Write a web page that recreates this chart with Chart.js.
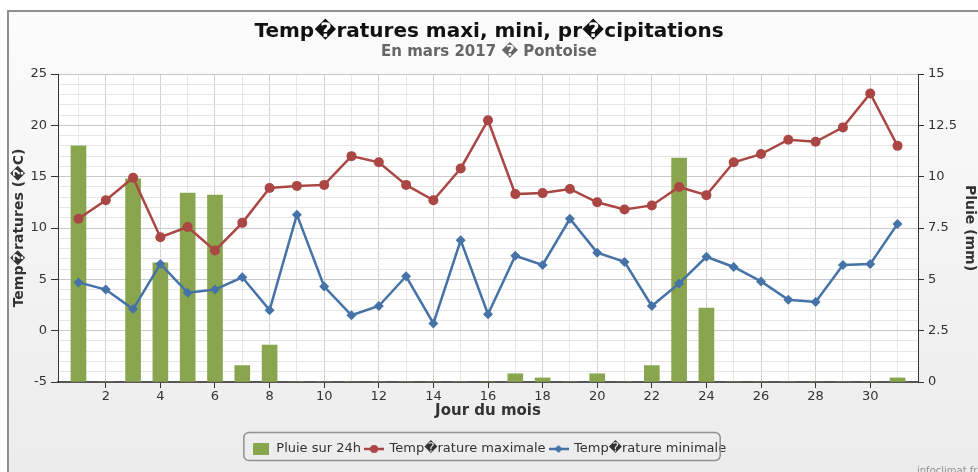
<!DOCTYPE html>
<html lang="fr">
<head>
<meta charset="utf-8">
<title>Températures maxi, mini, précipitations</title>
<script src="https://cdn.jsdelivr.net/npm/chart.js@4/dist/chart.umd.min.js"></script>
<style>
  html, body { margin: 0; padding: 0; background: #fff; }
  canvas { display: block; }
</style>
</head>
<body>
<canvas id="graphique" width="978" height="472"></canvas>
<script>
const jours = [1, 2, 3, 4, 5, 6, 7, 8, 9, 10, 11, 12, 13, 14, 15, 16,
  17, 18, 19, 20, 21, 22, 23, 24, 25, 26, 27, 28, 29, 30, 31];

const pluie = [11.5, 0, 9.9, 5.8, 9.2, 9.1, 0.8, 1.8, 0, 0, 0, 0, 0, 0, 0, 0,
  0.4, 0.2, 0, 0.4, 0, 0.8, 10.9, 3.6, 0, 0, 0, 0, 0, 0, 0.2];

const tempMax = [10.9, 12.7, 14.9, 9.1, 10.1, 7.8, 10.5, 13.9, 14.1, 14.2,
  17.0, 16.4, 14.2, 12.7, 15.8, 20.5, 13.3, 13.4, 13.8, 12.5,
  11.8, 12.2, 14.0, 13.2, 16.4, 17.2, 18.6, 18.4, 19.8, 23.1, 18.0];

const tempMin = [4.7, 4.0, 2.1, 6.5, 3.7, 4.0, 5.2, 2.0, 11.3, 4.3,
  1.5, 2.4, 5.3, 0.7, 8.8, 1.6, 7.3, 6.4, 10.9, 7.6,
  6.7, 2.4, 4.6, 7.2, 6.2, 4.8, 3.0, 2.8, 6.4, 6.5, 10.4];

const nomsSeries = ["Pluie sur 24h", "Temp\uFFFDrature maximale", "Temp\uFFFDrature minimale"];

const VERT = "#89A54E";
const ROUGE = "#AA4643";
const BLEU = "#4572A7";

Chart.defaults.font.family = '"DejaVu Sans", Verdana, sans-serif';
Chart.defaults.color = "#333";

// petits symboles de legende (ligne + marqueur)
function symbole(type, couleur) {
  const c = document.createElement("canvas");
  const g = c.getContext("2d");
  if (type === "carre") {
    c.width = 16;
    c.height = 12;
    g.fillStyle = couleur;
    g.fillRect(0, 0, 16, 12);
    return c;
  }
  c.width = 20;
  c.height = 10;
  g.strokeStyle = couleur;
  g.fillStyle = couleur;
  g.lineWidth = 2.5;
  g.beginPath();
  g.moveTo(0, 5);
  g.lineTo(20, 5);
  g.stroke();
  g.beginPath();
  if (type === "rond") {
    g.arc(10, 5, 4, 0, Math.PI * 2);
  } else {
    g.moveTo(10, 1);
    g.lineTo(14, 5);
    g.lineTo(10, 9);
    g.lineTo(6, 5);
    g.closePath();
  }
  g.fill();
  return c;
}

const symboles = [symbole("carre", VERT), symbole("rond", ROUGE), symbole("losange", BLEU)];

const cadre = {
  id: "cadre",
  beforeDraw(chart) {
    const ctx = chart.ctx;
    const a = chart.chartArea;
    ctx.save();
    ctx.fillStyle = "#fff";
    ctx.fillRect(0, 0, chart.width, chart.height);
    const grad = ctx.createLinearGradient(0, 11, 0, chart.height);
    grad.addColorStop(0, "#fbfbfb");
    grad.addColorStop(1, "#ececec");
    ctx.fillStyle = grad;
    ctx.fillRect(8, 11, chart.width - 8, chart.height - 11);
    ctx.strokeStyle = "#8f8f8f";
    ctx.lineWidth = 2;
    ctx.beginPath();
    ctx.moveTo(8, chart.height);
    ctx.lineTo(8, 11);
    ctx.lineTo(chart.width, 11);
    ctx.stroke();
    ctx.fillStyle = "#fff";
    ctx.fillRect(a.left, a.top, a.right - a.left, a.bottom - a.top);
    ctx.restore();
  },
  afterDraw(chart) {
    const ctx = chart.ctx;
    const boites = chart.legend.legendHitBoxes;
    if (boites && boites.length) {
      const premier = boites[0];
      const dernier = boites[boites.length - 1];
      const x = premier.left - 8;
      const y = premier.top - 10;
      const w = dernier.left + dernier.width - 6 - x;
      const h = premier.height + 15;
      ctx.save();
      ctx.strokeStyle = "#909090";
      ctx.lineWidth = 1.5;
      ctx.beginPath();
      ctx.roundRect(x, y, w, h, 5);
      ctx.stroke();
      ctx.restore();
    }
    ctx.save();
    ctx.font = '10px "DejaVu Sans", Verdana, sans-serif';
    ctx.fillStyle = "#909090";
    ctx.textBaseline = "alphabetic";
    ctx.fillText("infoclimat.fr", 917, 474);
    ctx.restore();
  },
};

new Chart(document.getElementById("graphique"), {
  data: {
    labels: jours,
    datasets: [
      {
        type: "bar",
        label: nomsSeries[0],
        data: pluie,
        yAxisID: "y1",
        backgroundColor: VERT,
        borderWidth: 0,
        barThickness: 15,
        order: 2,
      },
      {
        type: "line",
        label: nomsSeries[1],
        data: tempMax,
        yAxisID: "y",
        borderColor: ROUGE,
        backgroundColor: ROUGE,
        borderWidth: 2.5,
        pointStyle: "circle",
        pointRadius: 5,
        pointBorderWidth: 0,
        tension: 0,
        order: 1,
      },
      {
        type: "line",
        label: nomsSeries[2],
        data: tempMin,
        yAxisID: "y",
        borderColor: BLEU,
        backgroundColor: BLEU,
        borderWidth: 2.5,
        pointStyle: "rectRot",
        pointRadius: 5,
        pointBorderWidth: 0,
        tension: 0,
        order: 0,
      },
    ],
  },
  options: {
    responsive: false,
    animation: false,
    layout: { padding: { top: 0, left: 0, right: 0, bottom: 6.5 } },
    plugins: {
      tooltip: { enabled: false },
      title: {
        display: true,
        text: "Temp\uFFFDratures maxi, mini, pr\uFFFDcipitations",
        color: "#111",
        font: { size: 20, weight: "bold" },
        padding: { top: 19.5, bottom: 0 },
      },
      subtitle: {
        display: true,
        text: "En mars 2017 \uFFFD Pontoise",
        color: "#666",
        font: { size: 15, weight: "bold" },
        padding: { top: 0, bottom: 12.5 },
      },
      legend: {
        position: "bottom",
        labels: {
          usePointStyle: true,
          pointStyleWidth: 18,
          padding: 4,
          color: "#333",
          font: { size: 13 },
          generateLabels(chart) {
            const items = Chart.defaults.plugins.legend.labels.generateLabels(chart);
            items.sort((a, b) => a.datasetIndex - b.datasetIndex);
            items.forEach((it) => {
              it.pointStyle = symboles[it.datasetIndex];
            });
            return items;
          },
        },
      },
    },
    scales: {
      x: {
        type: "linear",
        min: 0.25,
        max: 31.75,
        offset: false,
        afterFit: (s) => { s.height = 56.5; },
        border: { display: true, color: "#555", width: 2 },
        grid: {
          offset: false,
          color: (c) => (c.tick && c.tick.value % 2 === 0 ? "#d2d2d2" : "#e8e8e8"),
          tickColor: (c) => (c.tick && c.tick.value % 2 === 0 ? "#333" : "rgba(0,0,0,0)"),
          tickLength: 6,
        },
        ticks: {
          stepSize: 1,
          includeBounds: false,
          autoSkip: false,
          maxRotation: 0,
          padding: 1,
          color: "#333",
          font: { size: 13 },
          callback: (v) => (v % 2 === 0 ? v : ""),
        },
        title: {
          display: true,
          text: "Jour du mois",
          color: "#333",
          font: { size: 15, weight: "bold" },
          padding: { top: 0, bottom: 18 },
        },
      },
      y: {
        position: "left",
        min: -5,
        max: 25,
        afterFit: (s) => { s.width = 58; },
        border: { display: true, color: "#333", width: 1 },
        grid: {
          color: (c) => (c.tick && c.tick.value % 5 === 0 ? "#c8c8c8" : "#e6e6e6"),
          tickColor: (c) => (c.tick && c.tick.value % 5 === 0 ? "#333" : "rgba(0,0,0,0)"),
          tickLength: 7,
        },
        ticks: {
          stepSize: 1,
          autoSkip: false,
          padding: 4,
          color: "#333",
          font: { size: 13 },
          callback: (v) => (v % 5 === 0 ? v : ""),
        },
        title: {
          display: true,
          text: "Temp\uFFFDratures (\uFFFDC)",
          color: "#333",
          font: { size: 14, weight: "bold" },
          padding: { top: 10.5, bottom: 0 },
        },
      },
      y1: {
        position: "right",
        min: 0,
        max: 15,
        afterFit: (s) => { s.width = 60; },
        border: { display: true, color: "#333", width: 1 },
        grid: { drawOnChartArea: false, tickColor: "#333", tickLength: 6 },
        ticks: {
          stepSize: 2.5,
          padding: 4,
          color: "#333",
          font: { size: 13 },
        },
        title: {
          display: true,
          text: "Pluie (mm)",
          color: "#333",
          font: { size: 14, weight: "bold" },
          padding: { top: 0, bottom: 0 },
        },
      },
    },
  },
  plugins: [cadre],
});
</script>
</body>
</html>
